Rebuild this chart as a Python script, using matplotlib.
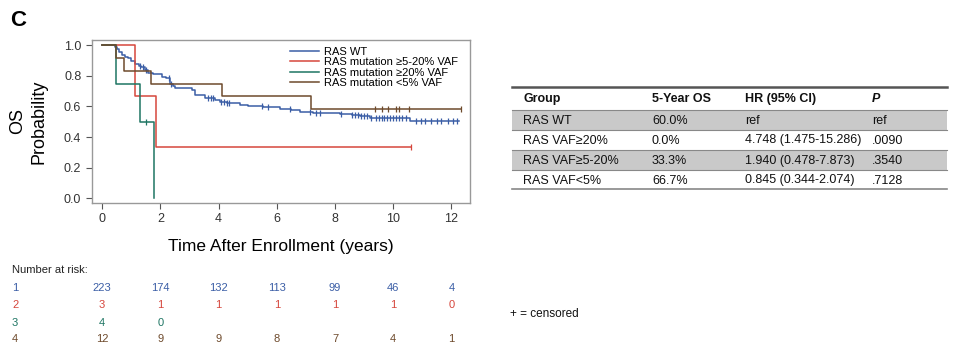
import matplotlib
matplotlib.use("Agg")
import matplotlib.pyplot as plt
import matplotlib.transforms as mtransforms
from matplotlib.patches import Rectangle
import numpy as np

plt.rcParams['font.family'] = ['Liberation Sans', 'DejaVu Sans']

# ---- Kaplan-Meier step data ----
wt_time = [0, 0.44, 0.50, 0.58, 0.67, 0.78, 0.89, 1.0, 1.12, 1.25, 1.35, 1.48, 1.58, 1.75,
           2.04, 2.2, 2.33, 2.42, 2.5, 3.07, 3.19, 3.53, 3.87, 4.04, 4.3, 4.73, 5.0, 5.52,
           6.1, 6.5, 6.79, 7.24, 8.16, 8.6, 8.85, 9.2, 9.5, 10.57, 12.25]
wt_surv = [1.0, 0.99, 0.975, 0.955, 0.936, 0.925, 0.915, 0.895, 0.877, 0.868, 0.86, 0.84,
           0.82, 0.81, 0.795, 0.785, 0.75, 0.735, 0.72, 0.707, 0.675, 0.653, 0.642, 0.63,
           0.62, 0.609, 0.602, 0.596, 0.582, 0.575, 0.566, 0.559, 0.553, 0.546, 0.539,
           0.526, 0.522, 0.504, 0.504]
wt_cens = [1.3, 1.4, 1.5, 2.3, 2.35, 3.65, 3.75, 3.8, 4.1, 4.2, 4.3, 4.35, 5.5, 5.7, 6.45,
           7.15, 7.35, 7.5, 8.2, 8.6, 8.7, 8.8, 8.9, 9.0, 9.1, 9.25, 9.4, 9.5, 9.6, 9.7, 9.8,
           9.9, 10.0, 10.1, 10.2, 10.3, 10.45, 10.8, 10.95, 11.1, 11.3, 11.5, 11.65, 11.9,
           12.05, 12.2]

mid_time = [0, 1.12, 1.84, 10.6]
mid_surv = [1.0, 0.667, 0.333, 0.333]
mid_cens = [10.6]

hi_time = [0, 0.49, 1.29, 1.77]
hi_surv = [1.0, 0.75, 0.5, 0.0]
hi_cens = [1.52]

lo_time = [0, 0.46, 0.74, 1.69, 4.13, 7.16, 12.34]
lo_surv = [1.0, 0.917, 0.833, 0.75, 0.667, 0.583, 0.583]
lo_cens = [9.37, 9.6, 9.82, 10.11, 10.19, 10.53, 12.34]

labels = ["RAS WT", "RAS mutation \u22655-20% VAF", "RAS mutation \u226520% VAF",
          "RAS mutation <5% VAF"]
colors = ["#3b5ea6", "#d6463c", "#1e7563", "#6e4a2c"]

# number at risk
risk_times = [0, 2, 4, 6, 8, 10, 12]
risk_rows = [["223", "174", "132", "113", "99", "46", "4"],
             ["3", "1", "1", "1", "1", "1", "0"],
             ["4", "0"],
             ["12", "9", "9", "8", "7", "4", "1"]]

# summary table
tbl_header = ["Group", "5-Year OS", "HR (95% CI)", "P"]
tbl_group = ["RAS WT", "RAS VAF\u226520%", "RAS VAF\u22655-20%", "RAS VAF<5%"]
tbl_os = ["60.0%", "0.0%", "33.3%", "66.7%"]
tbl_hr = ["ref", "4.748 (1.475-15.286)", "1.940 (0.478-7.873)", "0.845 (0.344-2.074)"]
tbl_p = ["ref", ".0090", ".3540", ".7128"]

W, H = 960, 350
fig = plt.figure(figsize=(9.6, 3.5), dpi=100)
ax = fig.add_axes([91.7 / W, 1 - 202.7 / H, (470 - 91.7) / W, (202.7 - 40) / H])

curves = [(wt_time, wt_surv, wt_cens), (mid_time, mid_surv, mid_cens),
          (hi_time, hi_surv, hi_cens), (lo_time, lo_surv, lo_cens)]
for (t, s, c), col, lab in zip(curves, colors, labels):
    ax.step(t, s, where="post", color=col, lw=1.1, label=lab)
    idx = np.searchsorted(t, c, side="right") - 1
    ax.plot(c, np.array(s)[idx], ls="none", marker="|", ms=5, mew=0.9, color=col)

ax.set_xlim(-0.36, 12.64)
ax.set_ylim(-0.03, 1.035)
ax.set_xticks(range(0, 13, 2))
ax.set_yticks(np.arange(0, 1.01, 0.2))
ax.set_yticklabels([f"{v:.1f}" for v in np.arange(0, 1.01, 0.2)])
ax.tick_params(labelsize=9, colors="#555555", labelcolor="#333333", length=4, width=0.8)
for sp in ax.spines.values():
    sp.set_color("#999999")
    sp.set_linewidth(1)
ax.set_xlabel("Time After Enrollment (years)", fontsize=12.5, labelpad=10)
ax.set_ylabel("OS\nProbability", fontsize=13, labelpad=12, linespacing=1.3)

ax.legend(loc="upper right", bbox_to_anchor=(0.985, 1.0), frameon=False, fontsize=8,
          handlelength=2.6, handletextpad=0.4, labelspacing=0.05, borderaxespad=0.2)

fig.text(10 / W, 1 - 20 / H, "C", fontsize=16, fontweight="bold", va="center")

# number at risk rows
trans = mtransforms.blended_transform_factory(ax.transData, fig.transFigure)
fig.text(12 / W, 1 - 270 / H, "Number at risk:", fontsize=8, va="center", color="#222222")
row_y = [288, 305, 323, 339]
for i, (vals, col) in enumerate(zip(risk_rows, colors)):
    y = 1 - row_y[i] / H
    fig.text(12 / W, y, str(i + 1), fontsize=8, va="center", color=col)
    for tt, v in zip(risk_times, vals):
        fig.text(tt, y, v, transform=trans, fontsize=8, va="center", ha="center", color=col)

# summary table
x0, x1 = 512 / W, 947 / W
col_x = [523, 652, 745, 872]
row_top = [87, 110, 130, 150, 170]
row_bot = 189
for k in [0, 2]:
    top = row_top[k + 1]
    fig.add_artist(Rectangle((x0, 1 - (top + 20) / H), x1 - x0, 20 / H,
                             transform=fig.transFigure, color="#c9c9c9", lw=0))
fig.add_artist(plt.Line2D([x0, x1], [1 - 87 / H] * 2, transform=fig.transFigure,
                          color="#555555", lw=1.8))
for yy in row_top[1:]:
    fig.add_artist(plt.Line2D([x0, x1], [1 - yy / H] * 2, transform=fig.transFigure,
                              color="#888888", lw=0.8))
fig.add_artist(plt.Line2D([x0, x1], [1 - row_bot / H] * 2, transform=fig.transFigure,
                          color="#888888", lw=1.2))

hy = 1 - 99 / H
for j, h in enumerate(tbl_header):
    fig.text(col_x[j] / W, hy, h, fontsize=9, fontweight="bold", va="center",
             style="italic" if h == "P" else "normal", color="#111111")
for i in range(4):
    y = 1 - (row_top[i + 1] + 10.5) / H
    for j, v in enumerate([tbl_group[i], tbl_os[i], tbl_hr[i], tbl_p[i]]):
        fig.text(col_x[j] / W, y, v, fontsize=9, va="center", color="#111111")

fig.text(510 / W, 1 - 314 / H, "+ = censored", fontsize=8.5, va="center", color="#111111")

fig.savefig("out.png", dpi=100)
